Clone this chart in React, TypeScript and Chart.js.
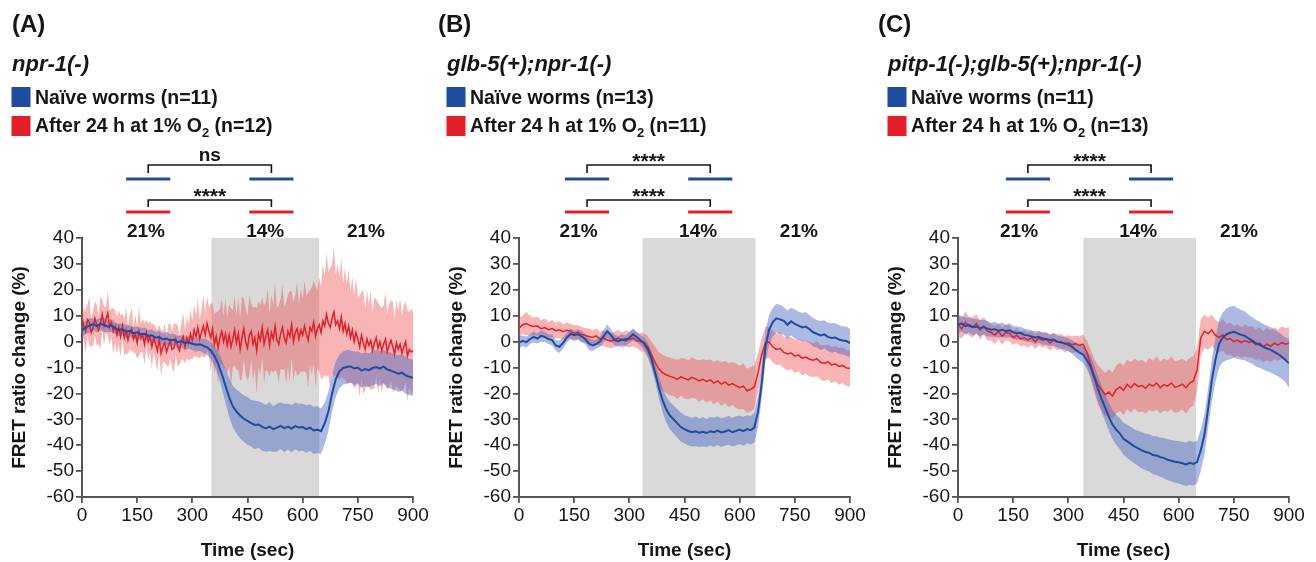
import React, { useEffect, useRef } from "react";
import { Chart, registerables } from "chart.js";
Chart.register(...registerables);

const FONT = "'Liberation Sans', Arial, Helvetica, sans-serif";
Chart.defaults.font.family = FONT;

// ---------- data (time in sec, values in % FRET ratio change) ----------
const TIME = [0,10,20,30,40,50,60,70,80,90,100,110,120,130,140,150,160,170,180,190,200,210,220,230,240,250,260,270,280,290,300,310,320,330,340,350,360,370,380,390,400,410,420,430,440,450,460,470,480,490,500,510,520,530,540,550,560,570,580,590,600,610,620,630,640,650,660,670,680,690,700,710,720,730,740,750,760,770,780,790,800,810,820,830,840,850,860,870,880,890,900];

// finer sampling, used for the very noisy hypoxia trace of panel A
const TIME_FINE = [0,5,10,15,20,25,30,35,40,45,50,55,60,65,70,75,80,85,90,95,100,105,110,115,120,125,130,135,140,145,150,155,160,165,170,175,180,185,190,195,200,205,210,215,220,225,230,235,240,245,250,255,260,265,270,275,280,285,290,295,300,305,310,315,320,325,330,335,340,345,350,355,360,365,370,375,380,385,390,395,400,405,410,415,420,425,430,435,440,445,450,455,460,465,470,475,480,485,490,495,500,505,510,515,520,525,530,535,540,545,550,555,560,565,570,575,580,585,590,595,600,605,610,615,620,625,630,635,640,645,650,655,660,665,670,675,680,685,690,695,700,705,710,715,720,725,730,735,740,745,750,755,760,765,770,775,780,785,790,795,800,805,810,815,820,825,830,835,840,845,850,855,860,865,870,875,880,885,890,895,900];

const X_TICKS = [0, 150, 300, 450, 600, 750, 900];
const Y_RANGE = [-60, 40];

// Panel A: npr-1(-)
const NAIVE_A = [
  4.5, 5.5, 6.2, 6.8, 6.0, 6.8, 6.5, 5.8, 6.2, 5.2,
  4.5, 4.8, 3.8, 4.2, 3.2, 3.6, 2.8, 3.0, 2.2, 2.4,
  1.5, 1.8, 0.8, 1.2, 0.4, 0.8, -0.2, 0.2, -0.6, -0.3,
  -0.8, -1.2, -1.0, -1.6, -2.2, -3.4, -5.5, -8.5, -12.5, -17.0,
  -21.5, -25.0, -27.0, -28.5, -29.8, -30.6, -31.5, -32.2, -32.0, -32.9,
  -33.5, -32.8, -33.8, -33.2, -32.5, -33.4, -32.8, -33.6, -32.6, -33.2,
  -33.0, -33.8, -33.2, -34.3, -34.0, -34.6, -31.5, -27.0, -20.0, -14.5,
  -11.5, -10.2, -9.8, -9.5, -10.4, -10.0, -11.2, -10.6, -11.0, -10.2,
  -9.8, -10.4, -9.6, -10.8, -11.2, -11.8, -12.4, -12.0, -13.0, -13.6,
  -14.0,
];
const SD_NAIVE_A = [
  3.0, 2.5, 2.8, 2.2, 2.6, 2.4, 2.8, 2.2, 2.5, 2.3,
  2.4, 2.2, 2.6, 2.1, 2.4, 2.2, 2.5, 2.3, 2.2, 2.4,
  2.2, 2.5, 2.3, 2.6, 2.4, 2.2, 2.5, 2.3, 2.6, 2.4,
  2.5, 2.7, 2.6, 2.8, 3.0, 3.2, 3.8, 4.5, 5.5, 6.5,
  7.5, 8.0, 8.5, 8.8, 9.0, 9.2, 9.0, 9.4, 9.0, 9.2,
  9.0, 9.4, 8.8, 9.2, 9.0, 9.3, 8.9, 9.1, 9.0, 9.2,
  9.0, 9.2, 8.9, 9.1, 9.0, 8.8, 8.0, 7.5, 7.0, 6.8,
  6.5, 6.4, 6.6, 6.2, 6.5, 6.3, 6.6, 6.4, 6.5, 6.7,
  6.6, 6.8, 6.5, 6.9, 7.0, 6.8, 7.1, 7.0, 7.2, 7.0,
  7.0,
];
// sampled on TIME_FINE
const HYPOX_A = [
  9.5, 6.0, 4.0, 8.5, 7.5, 3.5, 5.0, 9.0, 6.5, 4.5, 7.0, 10.5, 6.0, 8.5, 11.0, 5.5, 7.5, 4.0, 6.0, 2.5,
  5.5, 2.0, 6.0, 1.5, 4.5, 0.5, 3.5, 5.0, 1.0, 3.0, -0.5, 4.0, 1.5, 2.5, -1.0, 3.5, 0.0, 2.0, -2.0, 1.5,
  -1.0, -3.5, 1.0, -4.5, -2.0, -0.5, -4.0, -1.5, 0.5, -3.0, -2.5, 1.0, -1.5, -3.5, 0.0, 2.0, -2.0, 1.5, -0.5, 3.0,
  0.5, 4.5, 2.0, 5.5, 1.0, 3.5, 6.0, 2.5, 7.0, 4.0, 1.5, 5.0, -1.0, 2.0, -2.5, 1.5, 4.0, 0.0, 3.0, -1.5,
  2.5, -2.0, 1.0, 4.5, -0.5, 3.0, -3.0, 1.5, 5.0, 0.0, -2.5, 2.5, 4.0, -1.0, 1.5, -3.5, 3.0, 0.5, 5.5, -1.0,
  2.0, 4.5, -1.5, 3.5, 1.0, 6.0, 0.5, -1.0, 3.0, 5.5, 1.5, -0.5, 4.0, 2.0, 6.5, 0.0, 3.5, 5.0, 1.0, 4.5,
  2.5, 6.0, 3.0, 0.5, 5.5, 4.0, 7.5, 2.0, 5.0, 6.5, 3.5, 8.0, 6.0, 10.5, 7.0, 5.5, 9.0, 11.5, 6.5, 8.0,
  5.0, 9.5, 4.0, 7.0, 3.0, 6.0, 1.5, 4.5, 0.0, 3.5, 1.0, -2.0, 2.5, -0.5, -3.0, 1.0, -1.5, 0.5, -3.5, -0.5,
  1.5, -2.5, 0.0, -3.5, -1.0, 1.0, -4.0, -1.5, 0.5, -2.0, -5.0, -0.5, -3.0, -1.0, -4.5, -2.0, 0.0, -5.5, -3.0, -4.0,
  -3.5,
];
const SD_HYPOX_A = [
  7, 5.5, 8.5, 6, 9.5, 5, 7, 6.5, 8, 5.5, 10, 6, 7.5, 5, 8.5, 6.5, 5.5, 9, 6, 7,
  6.5, 8, 5, 7, 9, 5.5, 6.5, 8.5, 5, 7.5, 6, 9.5, 5.5, 6.5, 8, 5, 7, 6, 8.5, 5.5,
  6.5, 8, 5.5, 9, 6, 7.5, 5, 8.5, 6.5, 7, 9.5, 6, 8, 5.5, 7, 9, 6.5, 8, 7, 9.5,
  7.5, 10, 8, 11.5, 7.5, 9, 12, 8.5, 10.5, 9, 13, 10, 11.5, 9.5, 14, 11, 12.5, 10, 13.5, 11,
  12, 15, 11, 13.5, 10.5, 14, 12, 16, 11.5, 13, 12.5, 15.5, 11, 14, 12, 16.5, 12.5, 13.5, 11.5, 15,
  13, 16, 12, 14.5, 13, 17, 12.5, 15, 13.5, 16.5, 12, 15.5, 14, 17.5, 13, 15, 14.5, 18, 13.5, 16,
  14, 17.5, 15, 18.5, 14.5, 17, 16, 19.5, 15, 18, 18, 22, 19, 24, 20, 23, 21, 25, 19.5, 22,
  20, 23, 18.5, 21.5, 19, 22, 17.5, 20.5, 18, 21, 16.5, 19.5, 17, 20, 15.5, 18.5, 16, 19, 15, 17.5,
  15, 17.5, 14, 16.5, 15, 18, 14.5, 16, 15.5, 17.5, 14, 16.5, 15, 18, 14.5, 16, 15.5, 17.5, 14.5, 16.5,
  15.5,
];

// Panel B: glb-5(+);npr-1(-)
const NAIVE_B = [
  -0.4, 0.3, -0.2, 1.0, 1.8, 1.2, 2.2, 1.8, 1.0, 0.6,
  -1.5, -2.0, -0.5, 1.5, 3.0, 2.5, 2.8, 2.0, 1.0, -0.8,
  -1.5, -1.0, 0.0, 2.0, 4.0, 2.5, 0.6, 0.2, 0.8, 0.4,
  1.5, 2.8, 1.8, 0.5, -0.6, -3.0, -6.5, -12.0, -17.5, -22.5,
  -26.0, -28.5, -30.0, -31.5, -33.0, -33.8, -34.5, -35.0, -34.6, -35.2,
  -34.8, -35.3, -34.6, -35.0, -34.4, -35.1, -34.7, -34.2, -35.0, -34.5,
  -34.0, -34.6, -33.8, -34.2, -33.2, -27.0, -16.0, -2.0, 4.5, 7.5,
  9.0, 8.6, 8.0, 6.5, 7.8, 6.8, 6.2, 5.5, 5.8, 4.8,
  3.6, 3.0, 2.4, 2.8, 1.8, 1.4, 1.6, 0.8, 0.4, 0.2,
  -0.6,
];
const SD_NAIVE_B = [
  2.4, 2.0, 2.2, 1.8, 2.1, 1.9, 2.3, 2.0, 1.8, 2.1,
  2.0, 2.4, 2.2, 1.9, 2.1, 1.8, 2.0, 2.2, 1.9, 2.3,
  2.1, 1.9, 2.0, 2.4, 2.6, 2.2, 2.0, 1.9, 2.1, 2.0,
  2.2, 2.4, 2.1, 2.0, 2.2, 2.5, 3.0, 3.5, 4.0, 4.5,
  5.0, 5.2, 5.4, 5.5, 5.6, 5.4, 5.6, 5.5, 5.7, 5.5,
  5.6, 5.4, 5.5, 5.7, 5.5, 5.6, 5.4, 5.6, 5.5, 5.7,
  5.5, 5.6, 5.4, 5.5, 5.8, 6.0, 6.2, 6.0, 5.8, 5.6,
  5.5, 5.6, 5.4, 5.5, 5.3, 5.6, 5.4, 5.5, 5.6, 5.4,
  5.5, 5.3, 5.6, 5.4, 5.5, 5.7, 5.5, 5.6, 5.4, 5.6,
  5.5,
];
const HYPOX_B = [
  5.2, 6.5, 7.0, 6.2, 5.8, 6.0, 5.0, 5.4, 4.6, 5.0,
  4.2, 4.6, 3.8, 4.4, 4.0, 3.2, 3.6, 2.8, 2.4, 2.0,
  1.6, 2.2, 1.0, 1.4, 0.6, 0.2, 0.8, 1.4, 0.6, 1.2,
  0.8, 1.4, 0.4, 0.0, -0.4, -2.0, -5.0, -8.0, -10.5, -12.0,
  -12.8, -13.4, -13.8, -14.6, -13.6, -14.2, -14.8, -13.8, -14.4, -15.2,
  -14.6, -15.4, -14.8, -16.0, -15.2, -16.4, -15.6, -16.8, -16.2, -17.0,
  -17.8, -17.2, -19.0, -18.4, -17.5, -12.0, -5.0, -0.5, -0.2, -2.0,
  -3.0, -2.6, -4.2, -4.8, -4.4, -5.6, -5.2, -6.4, -6.0, -6.8,
  -7.2, -6.6, -8.0, -8.4, -7.8, -9.0, -8.6, -9.6, -9.2, -10.2,
  -10.3,
];
const SD_HYPOX_B = [
  4.0, 3.5, 4.5, 3.8, 3.4, 3.6, 3.2, 3.5, 3.0, 3.3,
  3.0, 3.4, 2.8, 3.1, 2.9, 3.2, 2.7, 3.0, 2.8, 3.1,
  2.8, 3.0, 2.7, 3.1, 2.9, 2.8, 3.0, 3.2, 2.9, 3.1,
  3.0, 3.2, 3.0, 3.4, 3.6, 4.2, 5.0, 6.0, 6.5, 7.0,
  7.0, 7.4, 7.2, 7.6, 7.3, 7.8, 7.5, 7.9, 7.6, 8.0,
  7.8, 8.2, 7.9, 8.3, 8.0, 8.4, 8.1, 8.5, 8.2, 8.6,
  8.4, 8.8, 8.5, 8.6, 8.4, 7.5, 6.5, 6.2, 6.0, 6.2,
  6.0, 6.3, 6.1, 6.4, 6.2, 6.5, 6.3, 6.6, 6.4, 6.7,
  6.5, 6.8, 6.6, 6.9, 6.7, 7.0, 6.8, 7.1, 6.9, 7.0,
  7.0,
];

// Panel C: pitp-1(-);glb-5(+);npr-1(-)
const NAIVE_C = [
  6.5, 7.0, 6.0, 6.4, 5.6, 5.8, 5.2, 5.6, 5.0, 4.6,
  4.8, 4.2, 4.6, 4.0, 4.4, 3.6, 3.2, 3.4, 2.6, 2.4,
  2.0, 1.6, 1.8, 1.2, 1.0, 0.6, 0.8, 0.0, -0.4, -0.6,
  -1.2, -2.0, -3.2, -4.2, -5.0, -7.0, -9.5, -13.5, -18.0, -22.0,
  -25.5, -29.0, -32.0, -34.0, -35.5, -37.5, -38.5, -39.5, -40.5, -41.2,
  -42.0, -42.6, -43.0, -43.8, -44.0, -44.6, -45.0, -45.6, -46.0, -46.4,
  -46.6, -47.0, -47.4, -46.8, -47.2, -46.5, -42.0, -36.0, -26.0, -15.0,
  -7.0, -0.8, 1.6, 2.8, 3.4, 3.8, 3.2, 2.6, 2.2, 1.2,
  0.4, -0.6, -1.2, -2.0, -2.6, -3.2, -4.0, -4.8, -5.8, -7.0,
  -8.4,
];
const SD_NAIVE_C = [
  3.5, 3.0, 3.4, 2.8, 3.2, 2.9, 3.1, 2.8, 3.0, 2.7,
  2.9, 2.6, 2.8, 2.5, 2.7, 2.4, 2.6, 2.3, 2.5, 2.4,
  2.3, 2.5, 2.2, 2.4, 2.3, 2.2, 2.4, 2.3, 2.5, 2.4,
  2.5, 2.6, 2.8, 3.0, 3.2, 3.6, 4.0, 4.4, 4.8, 5.0,
  5.2, 5.4, 5.6, 5.8, 6.0, 6.2, 6.4, 6.5, 6.6, 6.8,
  7.0, 7.1, 7.2, 7.4, 7.5, 7.6, 7.8, 7.9, 8.0, 8.1,
  8.2, 8.3, 8.4, 8.5, 8.4, 8.2, 8.0, 7.8, 7.6, 8.0,
  8.6, 9.2, 9.6, 10.0, 10.2, 10.0, 9.8, 9.6, 9.4, 9.2,
  9.0, 9.0, 8.9, 8.8, 8.8, 8.7, 8.7, 8.6, 8.6, 8.6,
  9.4,
];
const HYPOX_C = [
  6.5, 5.0, 7.5, 6.0, 5.5, 7.0, 4.5, 6.0, 4.0, 3.5,
  2.5, 4.0, 2.0, 3.5, 3.2, 1.5, 2.5, 1.0, 1.5, 0.5,
  1.5, 0.0, 1.3, 0.5, 1.0, -0.5, 0.5, -0.2, 0.0, -1.0,
  -0.5, -1.2, -0.8, -1.5, -1.0, -4.0, -8.5, -13.0, -16.5, -18.5,
  -20.5, -19.5, -21.0, -18.5, -17.5, -18.8, -16.5, -17.8, -16.2, -17.4,
  -17.0, -18.0, -16.4, -17.2, -16.0, -17.8, -16.6, -17.2, -16.0, -17.6,
  -17.2, -16.4, -17.8, -16.0, -15.2, -11.0, 1.5, 4.0, 3.0, 4.5,
  2.4, 1.6, 2.6, 0.8, 1.2, 0.0, 0.6, -0.4, 0.4, -0.2,
  0.0, -1.2, -0.6, -2.0, -1.0, -1.8, -0.6, -1.4, -0.4, -1.0,
  -0.6,
];
const SD_HYPOX_C = [
  4.5, 3.8, 4.2, 3.6, 4.0, 3.5, 3.8, 3.4, 3.6, 3.2,
  3.4, 3.0, 3.3, 2.9, 3.1, 2.8, 3.0, 2.8, 3.0, 2.9,
  2.8, 3.0, 2.7, 2.9, 2.8, 3.0, 2.8, 3.1, 2.9, 3.2,
  3.0, 3.3, 3.2, 3.5, 3.8, 4.5, 5.5, 6.5, 7.5, 8.0,
  8.4, 8.8, 9.0, 9.2, 9.4, 9.5, 9.6, 9.8, 9.7, 9.9,
  10.0, 9.8, 10.1, 9.9, 10.2, 10.0, 10.1, 9.9, 10.2, 10.0,
  10.0, 9.8, 10.1, 9.7, 9.5, 8.5, 7.0, 6.5, 6.2, 6.0,
  6.0, 5.8, 6.1, 5.9, 6.2, 6.0, 6.1, 5.9, 6.2, 6.0,
  6.1, 5.9, 6.2, 6.0, 6.3, 6.1, 6.2, 6.0, 6.3, 6.2,
  6.2,
];

// 14% O2 period (sec), analysis windows (sec), O2 label positions (sec)
const SHADE_A = [352, 645];
const SHADE_B = [336, 643];
const SHADE_C = [341, 647];
const WINDOWS_A = [[120, 240], [455, 575]];
const WINDOWS_B = [[125, 245], [460, 580]];
const WINDOWS_C = [[130, 250], [465, 585]];
const O2_LABELS = ["21%", "14%", "21%"];
const O2_POS_A = [174, 498, 772];
const O2_POS_B = [162, 487, 761];
const O2_POS_C = [166, 490, 764];

const SIG_A = ["ns", "****"];
const SIG_B = ["****", "****"];
const SIG_C = ["****", "****"];

// ---------- styles ----------
const BLUE = "#1f4c9e";
const RED = "#e3202a";
const BLUE_BAND = "rgba(70,100,190,0.45)";
const RED_BAND = "rgba(240,70,70,0.40)";
const SHADE = "#d9d9d9";
const INK = "#151515";
const AXIS = "#555555";

const W = 438;
const H = 562;

type Panel = {
  letter: string; title: string; nNaive: number; nHyp: number;
  naive: number[]; sdNaive: number[]; naiveT: number[];
  hyp: number[]; sdHyp: number[]; hypT: number[];
  shade: number[]; windows: number[][]; o2Pos: number[]; sig: string[];
  left: number; letterX: number; headX: number;
};

const PANELS: Panel[] = [
  { letter: "(A)", title: "npr-1(-)", nNaive: 11, nHyp: 12,
    naive: NAIVE_A, sdNaive: SD_NAIVE_A, naiveT: TIME, hyp: HYPOX_A, sdHyp: SD_HYPOX_A, hypT: TIME_FINE,
    shade: SHADE_A, windows: WINDOWS_A, o2Pos: O2_POS_A, sig: SIG_A, left: 0, letterX: 12, headX: 12 },
  { letter: "(B)", title: "glb-5(+);npr-1(-)", nNaive: 13, nHyp: 11,
    naive: NAIVE_B, sdNaive: SD_NAIVE_B, naiveT: TIME, hyp: HYPOX_B, sdHyp: SD_HYPOX_B, hypT: TIME,
    shade: SHADE_B, windows: WINDOWS_B, o2Pos: O2_POS_B, sig: SIG_B, left: 437, letterX: 1, headX: 10 },
  { letter: "(C)", title: "pitp-1(-);glb-5(+);npr-1(-)", nNaive: 11, nHyp: 13,
    naive: NAIVE_C, sdNaive: SD_NAIVE_C, naiveT: TIME, hyp: HYPOX_C, sdHyp: SD_HYPOX_C, hypT: TIME,
    shade: SHADE_C, windows: WINDOWS_C, o2Pos: O2_POS_C, sig: SIG_C, left: 876, letterX: 2, headX: 12 },
];

const pts = (ts: number[], vals: number[]) => ts.map((t, i) => ({ x: t, y: vals[i] }));
const band = (ts: number[], vals: number[], sd: number[], sign: number) =>
  ts.map((t, i) => ({ x: t, y: vals[i] + sign * sd[i] }));

function makeDecor(p: Panel) {
  return {
    id: "decor",
    beforeDatasetsDraw(chart: any) {
      const { ctx, chartArea, scales } = chart;
      const x = scales.x;
      const x0 = x.getPixelForValue(p.shade[0]);
      const x1 = x.getPixelForValue(p.shade[1]);
      ctx.save();
      ctx.fillStyle = SHADE;
      ctx.fillRect(x0, chartArea.top, x1 - x0, chartArea.bottom - chartArea.top - 1);
      ctx.restore();
    },
    afterDraw(chart: any) {
      const { ctx, scales } = chart;
      const x = scales.x;
      ctx.save();
      ctx.textAlign = "left";
      ctx.textBaseline = "alphabetic";
      ctx.fillStyle = INK;
      ctx.font = `bold 24px ${FONT}`;
      ctx.fillText(p.letter, p.letterX, 32);
      ctx.font = `italic bold 22px ${FONT}`;
      ctx.fillText(p.title, p.headX, 71);

      // legend
      ctx.fillStyle = BLUE;
      ctx.fillRect(p.headX - 0.5, 87, 19, 20);
      ctx.fillStyle = RED;
      ctx.fillRect(p.headX - 0.5, 116, 19, 20);
      ctx.fillStyle = INK;
      ctx.font = `bold 19.5px ${FONT}`;
      const tx0 = p.headX + 23;
      ctx.fillText(`Naïve worms (n=${p.nNaive})`, tx0, 104);
      let tx = tx0;
      const s1 = "After 24 h at 1% O";
      ctx.fillText(s1, tx, 132);
      tx += ctx.measureText(s1).width;
      ctx.font = `bold 13px ${FONT}`;
      ctx.fillText("2", tx, 137);
      tx += ctx.measureText("2").width;
      ctx.font = `bold 19.5px ${FONT}`;
      ctx.fillText(` (n=${p.nHyp})`, tx, 132);

      // analysis windows
      const [w1, w2] = p.windows;
      const segs = [[BLUE, 179], [RED, 212]] as [string, number][];
      ctx.lineWidth = 3;
      for (const [col, yy] of segs) {
        ctx.strokeStyle = col;
        for (const w of [w1, w2]) {
          ctx.beginPath();
          ctx.moveTo(x.getPixelForValue(w[0]), yy);
          ctx.lineTo(x.getPixelForValue(w[1]), yy);
          ctx.stroke();
        }
      }
      // brackets
      const c1 = x.getPixelForValue((w1[0] + w1[1]) / 2);
      const c2 = x.getPixelForValue((w2[0] + w2[1]) / 2);
      ctx.strokeStyle = INK;
      ctx.lineWidth = 1.6;
      for (const [yTop, yEnd] of [[165, 173], [200, 207]]) {
        ctx.beginPath();
        ctx.moveTo(c1, yEnd);
        ctx.lineTo(c1, yTop);
        ctx.lineTo(c2, yTop);
        ctx.lineTo(c2, yEnd);
        ctx.stroke();
      }
      ctx.textAlign = "center";
      const mid = (c1 + c2) / 2;
      const drawSig = (s: string, centerY: number) => {
        if (s === "ns") {
          ctx.font = `bold 19px ${FONT}`;
          ctx.fillText(s, mid, centerY + 5);
        } else {
          ctx.font = `bold 21px ${FONT}`;
          ctx.fillText(s, mid, centerY + 12);
        }
      };
      drawSig(p.sig[0], 156);
      drawSig(p.sig[1], 191);

      // O2 labels
      ctx.font = `bold 19px ${FONT}`;
      p.o2Pos.forEach((t, i) => ctx.fillText(O2_LABELS[i], x.getPixelForValue(t), 237));
      ctx.restore();
    },
  };
}

function PanelChart({ p }: { p: Panel }) {
  const ref = useRef<HTMLCanvasElement>(null);
  useEffect(() => {
    const canvas = ref.current!;
    const tickFont = { size: 19, family: FONT };
    const titleFont = { size: 19, weight: "bold" as const, family: FONT };
    const chart = new Chart(canvas, {
      type: "line",
      data: {
        datasets: [
          { label: "naive", data: pts(p.naiveT, p.naive), borderColor: BLUE, borderWidth: 2, pointRadius: 0, fill: false, order: 0 },
          { label: "hyp", data: pts(p.hypT, p.hyp), borderColor: RED, borderWidth: 1.5, pointRadius: 0, fill: false, order: 1 },
          { label: "naiveLo", data: band(p.naiveT, p.naive, p.sdNaive, -1), borderWidth: 0, pointRadius: 0, fill: false, order: 2 },
          { label: "naiveHi", data: band(p.naiveT, p.naive, p.sdNaive, 1), borderWidth: 0, pointRadius: 0, fill: "-1", backgroundColor: BLUE_BAND, order: 2 },
          { label: "hypLo", data: band(p.hypT, p.hyp, p.sdHyp, -1), borderWidth: 0, pointRadius: 0, fill: false, order: 4 },
          { label: "hypHi", data: band(p.hypT, p.hyp, p.sdHyp, 1), borderWidth: 0, pointRadius: 0, fill: "-1", backgroundColor: RED_BAND, order: 4 },
        ],
      },
      options: {
        animation: false,
        responsive: false,
        maintainAspectRatio: false,
        devicePixelRatio: 1,
        layout: { padding: { left: 8, right: 25, top: 238, bottom: 0 } },
        plugins: { legend: { display: false }, tooltip: { enabled: false } },
        elements: { line: { tension: 0 } },
        scales: {
          x: {
            type: "linear",
            min: 0,
            max: 900,
            afterBuildTicks: (s: any) => { s.ticks = X_TICKS.map((v) => ({ value: v })); },
            ticks: { font: tickFont, color: INK, padding: 1, maxRotation: 0, autoSkip: false },
            grid: { drawOnChartArea: false, drawTicks: true, tickLength: 6, color: AXIS, lineWidth: 1.8 },
            border: { display: true, color: AXIS, width: 2 },
            title: { display: true, text: "Time (sec)", font: titleFont, color: INK, padding: { top: 0, bottom: 0 } },
            afterFit: (s: any) => { s.height = 65; },
          },
          y: {
            min: Y_RANGE[0],
            max: Y_RANGE[1],
            ticks: { stepSize: 10, font: tickFont, color: INK, padding: 2 },
            grid: { drawOnChartArea: false, drawTicks: true, tickLength: 6, color: AXIS, lineWidth: 1.8 },
            border: { display: true, color: AXIS, width: 2 },
            title: { display: true, text: "FRET ratio change (%)", font: titleFont, color: INK, padding: { top: 0, bottom: 0 } },
            afterFit: (s: any) => { s.width = 74; },
          },
        },
      },
      plugins: [makeDecor(p)],
    } as any);
    return () => chart.destroy();
  }, [p]);
  return (
    <div style={{ position: "absolute", left: p.left, top: 0, width: W, height: H }}>
      <canvas ref={ref} width={W} height={H} style={{ width: W, height: H, display: "block" }} />
    </div>
  );
}

export default function App() {
  return (
    <div style={{ position: "absolute", left: 0, top: 0, width: 1316, height: 562, background: "#fff", overflow: "hidden" }}>
      {PANELS.map((p) => (
        <PanelChart key={p.letter} p={p} />
      ))}
    </div>
  );
}
